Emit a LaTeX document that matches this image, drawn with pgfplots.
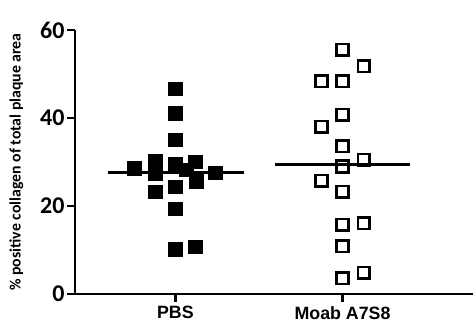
\documentclass[border=0pt]{standalone}
\usepackage{pgfplots}
\pgfplotsset{compat=1.18}
\usepackage{fontspec}
\setmainfont{Carlito}
\newfontfamily\arialb{Liberation Sans}
\begin{document}
\begin{tikzpicture}
\path[use as bounding box] (-75pt,-35pt) rectangle (398pt,294pt);
\begin{axis}[
  at={(0,0)}, anchor=south west,
  scale only axis, width=398pt, height=264pt,
  xmin=0.4, xmax=2.78, ymin=0, ymax=60,
  axis x line=bottom, axis y line=left,
  axis line style={line width=2.8pt, -},
  every tick/.style={line width=2.8pt, black},
  tick align=outside, major tick length=8pt,
  xtick={1,2}, xticklabels={PBS, Moab A7S8},
  ytick={0,20,40,60},
  x tick label style={font=\arialb\bfseries\fontsize{17.8}{19}\selectfont, yshift=-1pt},
  y tick label style={font=\bfseries\fontsize{24}{25}\selectfont, xshift=1pt},
  /pgf/number format/assume math mode=true,
  ylabel={\% positive collagen of total plaque area},
  ylabel style={font=\bfseries\fontsize{15.8}{17}\selectfont, at={(ticklabel cs:0.5)}, anchor=south, yshift=10pt},
  clip=false,
]
\addplot[only marks, mark=square*, mark size=6.9pt, black, mark options={line width=0pt}] coordinates {
  (1,46.6) (1,41.1) (1,35.0) (0.754,28.6) (0.88,30.2) (0.88,27.4)
  (1,29.5) (1.12,30.0) (1.065,28.2) (1.125,25.5) (1.24,27.5)
  (0.88,23.2) (1,24.3) (1,19.3) (1,10.2) (1.12,10.7)
};
\addplot[only marks, mark=square, mark size=5.8pt, black, mark options={line width=2.6pt}] coordinates {
  (2,55.5) (2.126,51.8) (1.874,48.4) (2,48.4) (2,40.7) (1.874,38.0)
  (2,33.6) (2.126,30.5) (2,29.0) (1.874,25.7) (2,23.2) (2,15.7)
  (2.126,16.1) (2,10.9) (2,3.6) (2.126,4.8)
};
\addplot[black, line width=3pt] coordinates {(0.6,27.7) (1.41,27.7)};
\addplot[black, line width=3pt] coordinates {(1.595,29.5) (2.405,29.5)};
\end{axis}
\end{tikzpicture}
\end{document}
